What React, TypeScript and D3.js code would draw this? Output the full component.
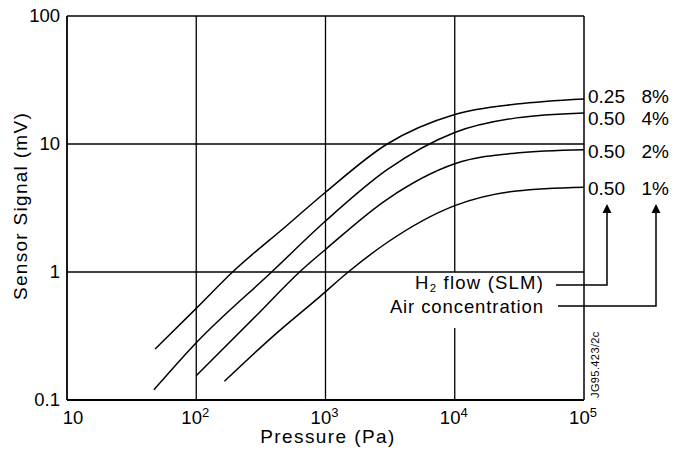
import React from 'react';
import * as d3 from 'd3';

// values (log-log)
const flows = ['0.25', '0.50', '0.50', '0.50'];
const airConc = ['8%', '4%', '2%', '1%'];

const pressure8 = [48, 100, 191, 500, 1000, 3000, 10000, 30000, 100000];
const signal8 = [0.25, 0.52, 1.0, 2.3, 4.2, 10, 17, 20.5, 22.5];
const pressure4 = [47, 100, 383, 1000, 3000, 10000, 30000, 100000];
const signal4 = [0.12, 0.28, 1.0, 2.5, 6.3, 12.3, 16, 17.5];
const pressure2 = [100, 300, 630, 1000, 3000, 10000, 30000, 100000];
const signal2 = [0.155, 0.47, 1.0, 1.5, 3.7, 7.0, 8.5, 9.0];
const pressure1 = [165, 400, 900, 1500, 3000, 10000, 30000, 100000];
const signal1 = [0.14, 0.32, 0.64, 1.0, 1.7, 3.3, 4.3, 4.6];

const xTicks = [10, 100, 1000, 10000, 100000];
const yTicks = [0.1, 1, 10, 100];

const W = 674;
const H = 452;
const FONT = '"Liberation Sans", Arial, Helvetica, sans-serif';

const App = () => {
  const x = d3.scaleLog().domain([10, 1e5]).range([67, 584]);
  const y = d3.scaleLog().domain([0.1, 100]).range([400, 16]);

  const series = [
    d3.zip(pressure8, signal8),
    d3.zip(pressure4, signal4),
    d3.zip(pressure2, signal2),
    d3.zip(pressure1, signal1),
  ];

  const line = d3
    .line()
    .x((d) => x(d[0]))
    .y((d) => y(d[1]))
    .curve(d3.curveMonotoneX);

  // spread the end labels so they don't collide
  const labelY = series.map((s) => y(s[s.length - 1][1]));
  for (let k = 0; k < 4; k++) {
    for (let i = 1; i < labelY.length; i++) {
      const gap = labelY[i] - labelY[i - 1];
      if (gap < 22) {
        const push = (22 - gap) / 2;
        labelY[i - 1] -= push;
        labelY[i] += push;
      }
    }
  }

  const x0 = x.range()[0];
  const x1 = x.range()[1];
  const yTop = y.range()[1];
  const yBot = y.range()[0];

  const h2Y = 285;
  const airY = 306;
  const h2X = 607;
  const airX = 656;
  const arrowTip = 204;

  const arrow = (cx) =>
    `M${cx},${arrowTip} L${cx - 4.5},${arrowTip + 9} L${cx + 4.5},${arrowTip + 9} Z`;

  return (
    <svg
      width={W}
      height={H}
      style={{ position: 'absolute', left: 0, top: 0, background: '#fff' }}
      fontFamily={FONT}
    >
      <rect width={W} height={H} fill="#fff" />

      {/* grid */}
      {[1, 10].map((v) => (
        <line key={'h' + v} x1={x0} x2={x1} y1={y(v)} y2={y(v)} stroke="#000" strokeWidth={1.3} />
      ))}
      {[100, 1000].map((v) => (
        <line key={'v' + v} x1={x(v)} x2={x(v)} y1={yTop} y2={yBot} stroke="#000" strokeWidth={1.3} />
      ))}
      <line x1={x(1e4)} x2={x(1e4)} y1={yTop} y2={y(1)} stroke="#000" strokeWidth={1.3} />
      <line x1={x(1e4)} x2={x(1e4)} y1={328} y2={yBot} stroke="#000" strokeWidth={1.3} />

      {/* frame */}
      <line x1={x0} x2={x1} y1={yTop} y2={yTop} stroke="#000" strokeWidth={1.4} />
      <line x1={x1} x2={x1} y1={yTop} y2={yBot} stroke="#000" strokeWidth={1.5} />
      <line x1={x0} x2={x0} y1={yTop} y2={yBot} stroke="#000" strokeWidth={1.8} />
      <line x1={x0} x2={x1} y1={yBot} y2={yBot} stroke="#000" strokeWidth={1.8} />

      {/* curves */}
      {series.map((s, i) => (
        <path key={i} d={line(s)} fill="none" stroke="#000" strokeWidth={1.5} />
      ))}

      {/* end labels */}
      {labelY.map((ly, i) => (
        <g key={'l' + i} fontSize={19} fill="#000">
          <text x={588} y={ly + 3} dominantBaseline="middle">{flows[i]}</text>
          <text x={669} y={ly + 3} dominantBaseline="middle" textAnchor="end">{airConc[i]}</text>
        </g>
      ))}

      {/* y ticks */}
      {yTicks.map((v) => (
        <text key={'yt' + v} x={60} y={y(v) + 1} fontSize={18.5} textAnchor="end" dominantBaseline="middle">
          {d3.format('~g')(v)}
        </text>
      ))}

      {/* x ticks */}
      {xTicks.map((v) => {
        const e = Math.round(Math.log10(v));
        return (
          <text key={'xt' + v} x={x(v) + (e === 1 ? 6 : -1)} y={424} fontSize={18.5} textAnchor="middle">
            10
            {e > 1 && (
              <tspan fontSize={13} dy={-7}>
                {e}
              </tspan>
            )}
          </text>
        );
      })}

      {/* axis titles */}
      <text x={328} y={443} fontSize={19} letterSpacing={1.4} textAnchor="middle">
        Pressure (Pa)
      </text>
      <text
        transform="translate(27,206) rotate(-90)"
        fontSize={19}
        letterSpacing={1.3}
        textAnchor="middle"
      >
        Sensor Signal (mV)
      </text>

      {/* legend annotation */}
      <text x={544} y={289} fontSize={18.5} letterSpacing={1.2} textAnchor="end">
        H<tspan fontSize={11.5} dy={3}>2</tspan>
        <tspan dy={-3}> flow (SLM)</tspan>
      </text>
      <text x={544} y={313} fontSize={18.5} letterSpacing={0.9} textAnchor="end">
        Air concentration
      </text>
      <polyline
        points={`556,${h2Y} ${h2X},${h2Y} ${h2X},${arrowTip + 6}`}
        fill="none"
        stroke="#000"
        strokeWidth={1.5}
      />
      <polyline
        points={`558,${airY} ${airX},${airY} ${airX},${arrowTip + 6}`}
        fill="none"
        stroke="#000"
        strokeWidth={1.5}
      />
      <path d={arrow(h2X)} fill="#000" />
      <path d={arrow(airX)} fill="#000" />

      <text transform="translate(599,398) rotate(-90)" fontSize={11} letterSpacing={0.4}>
        JG95.423/2c
      </text>
    </svg>
  );
};

export default App;
